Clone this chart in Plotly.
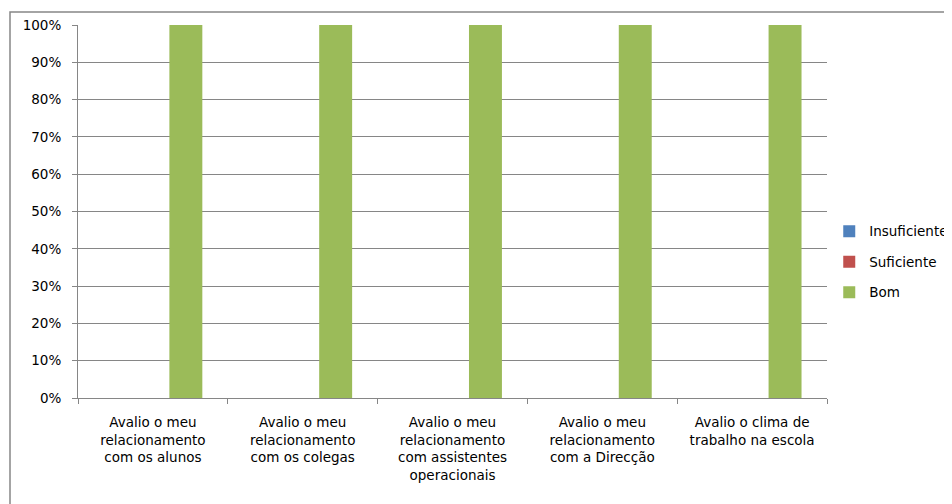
import plotly.graph_objects as go

categories = [
    "Avalio o meu<br>relacionamento<br>com os alunos",
    "Avalio o meu<br>relacionamento<br>com os colegas",
    "Avalio o meu<br>relacionamento<br>com assistentes<br>operacionais",
    "Avalio o meu<br>relacionamento<br>com a Direcção",
    "Avalio o clima de<br>trabalho na escola",
]
insuficiente = [0, 0, 0, 0, 0]
suficiente = [0, 0, 0, 0, 0]
bom = [1.0, 1.0, 1.0, 1.0, 1.0]

series = [
    ("Insuficiente", insuficiente, "#4F81BD"),
    ("Suficiente", suficiente, "#C0504D"),
    ("Bom", bom, "#9BBB59"),
]

fig = go.Figure()
for name, vals, color in series:
    fig.add_trace(go.Bar(x=categories, y=vals, name=name, marker_color=color,
                         marker_line_width=0, legendgroup=name))

OFF = 8  # page body margin
W, H = 952 - OFF, 504 - OFF
# target plot area in page pixels: x 78..827, y 25..398
L, R, T, B = 78 - OFF, 952 - 827, 25 - OFF, 504 - 398
pw = W - L - R
ph = H - T - B

def px_x(p):
    return (p - OFF - L) / pw

def px_y(p):
    return (OFF + T + ph - p) / ph

fig.update_layout(
    width=W, height=H,
    margin=dict(l=L, r=R, t=T, b=B, autoexpand=False),
    barmode="group", bargap=0.34, bargroupgap=0,
    plot_bgcolor="white", paper_bgcolor="white",
    font=dict(family="DejaVu Sans", size=13.5, color="#000000"),
    legend=dict(x=1.003, xanchor="left", y=0.365, yanchor="middle",
                tracegroupgap=10, font=dict(size=13.5),
                bgcolor="rgba(0,0,0,0)"),
    showlegend=True,
    shapes=[dict(type="rect", xref="paper", yref="paper",
                 x0=px_x(10), x1=px_x(960),
                 y0=px_y(515), y1=px_y(12),
                 line=dict(color="#868686", width=1.5), layer="below")],
)
fig.update_yaxes(range=[0, 1], dtick=0.1, tickformat=".0%",
                 showgrid=True, gridcolor="#868686", gridwidth=1,
                 showline=True, linecolor="#868686", linewidth=1,
                 ticks="outside", ticklen=5, tickcolor="#868686",
                 ticklabelstandoff=8,
                 zeroline=False, fixedrange=True, tickfont=dict(size=13.5))
fig.update_xaxes(showline=True, linecolor="#868686", linewidth=1,
                 ticks="outside", ticklen=5, tickcolor="#868686",
                 ticklabelstandoff=12,
                 tickson="boundaries", showgrid=False, fixedrange=True,
                 tickfont=dict(size=13.5))

fig.write_html("out.html")
